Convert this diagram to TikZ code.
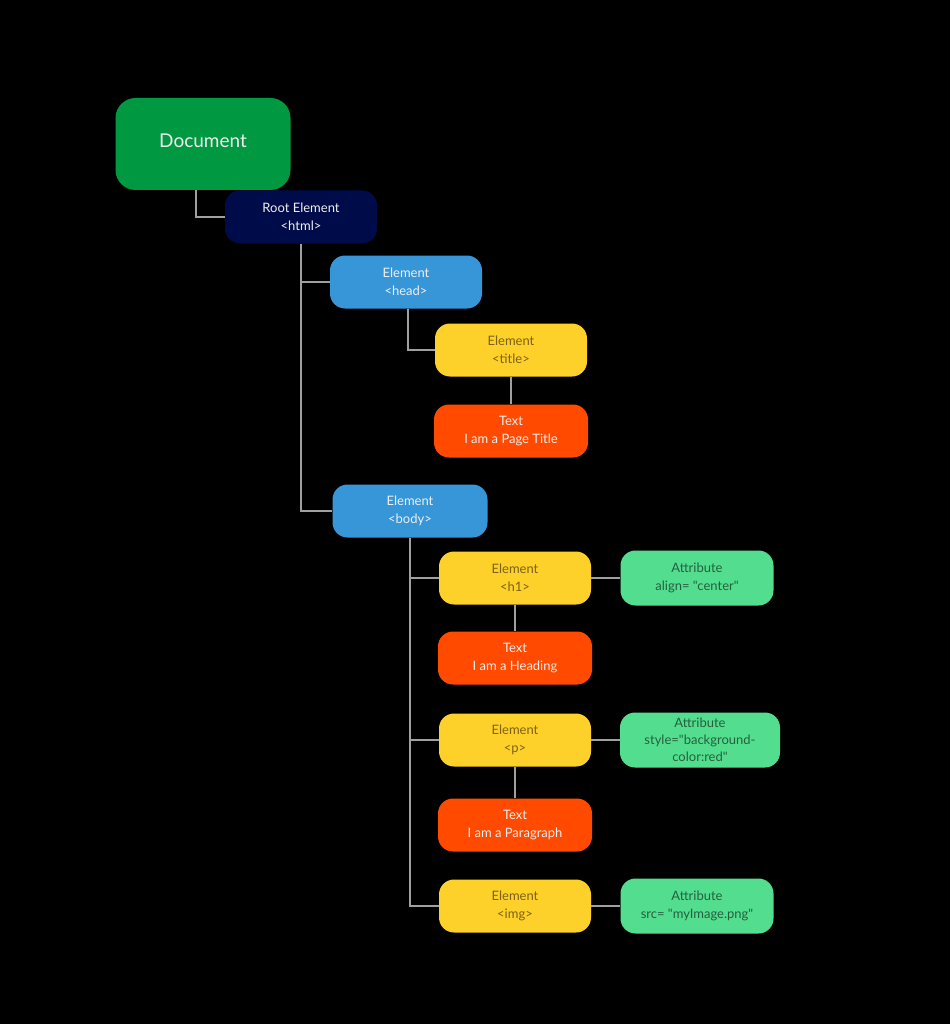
\documentclass[tikz,border=0pt]{standalone}
\usepackage{fontspec}
\setmainfont{Lato}[Ligatures=TeXOff]
\definecolor{docgreen}{RGB}{0,152,64}
\definecolor{navy}{RGB}{0,12,74}
\definecolor{elblue}{RGB}{55,150,216}
\definecolor{elyellow}{RGB}{253,208,42}
\definecolor{txtorange}{RGB}{255,74,0}
\definecolor{attrgreen}{RGB}{82,222,142}
\definecolor{olive}{RGB}{125,98,22}
\definecolor{darkgr}{RGB}{38,95,62}
\definecolor{light}{RGB}{238,238,238}
\definecolor{conngray}{RGB}{160,160,160}
\begin{document}
\begin{tikzpicture}[x=1pt,y=-1pt,
  box/.style={rounded corners=15pt, minimum width=152pt, minimum height=53pt,
    align=center, inner sep=0pt, font=\fontsize{13}{18}\selectfont},
  docbox/.style={box, fill=docgreen, text=light, minimum width=175pt,
    minimum height=92pt, rounded corners=20pt, font=\fontsize{19}{22}\selectfont},
  rootbox/.style={box, fill=navy, text=light},
  bluebox/.style={box, fill=elblue, text=light},
  yelbox/.style={box, fill=elyellow, text=olive},
  textbox/.style={box, fill=txtorange, text=light, minimum width=154pt},
  attrbox/.style={box, fill=attrgreen, text=darkgr, minimum width=153pt, minimum height=55pt},
  conn/.style={draw=conngray, line width=2pt}]
\fill[black] (0,0) rectangle (950,1024);
\useasboundingbox (0,0) rectangle (950,1024);

\node[docbox] (doc) at (203,144) {\raisebox{6pt}{Document}};
\node[rootbox] (root) at (301,217) {Root Element\\<html>};
\node[bluebox] (head) at (406,282) {Element\\<head>};
\node[yelbox] (title) at (511,350) {Element\\<title>};
\node[textbox] (ptitle) at (511,431) {Text\\I am a Page Title};
\node[bluebox, minimum width=155pt] (body) at (410,511) {Element\\<body>};
\node[yelbox] (h1) at (515,578) {Element\\<h1>};
\node[attrbox] (a1) at (697,578) {Attribute\\align= "center"};
\node[textbox] (theading) at (515,658) {Text\\I am a Heading};
\node[yelbox] (p) at (515,740) {Element\\<p>};
\node[attrbox, minimum width=160pt, font=\fontsize{13}{17}\selectfont] (a2) at (700,740) {Attribute\\style="background-\\color:red"};
\node[textbox] (tpara) at (515,825) {Text\\I am a Paragraph};
\node[yelbox] (img) at (515,906) {Element\\<img>};
\node[attrbox] (a3) at (697,906) {Attribute\\src= "myImage.png"};

\draw[conn] ([xshift=-7pt]doc.south) |- (root.west);
\draw[conn] (root.south) |- (head.west);
\draw[conn] (root.south) |- (body.west);
\draw[conn] ([xshift=2pt]head.south) |- (title.west);
\draw[conn] (title.south) -- (ptitle.north);
\draw[conn] (body.south) |- (h1.west);
\draw[conn] (body.south) |- (p.west);
\draw[conn] (body.south) |- (img.west);
\draw[conn] (h1.south) -- (theading.north);
\draw[conn] (p.south) -- (tpara.north);
\draw[conn] (h1.east) -- (a1.west);
\draw[conn] (p.east) -- (a2.west);
\draw[conn] (img.east) -- (a3.west);
\end{tikzpicture}
\end{document}
